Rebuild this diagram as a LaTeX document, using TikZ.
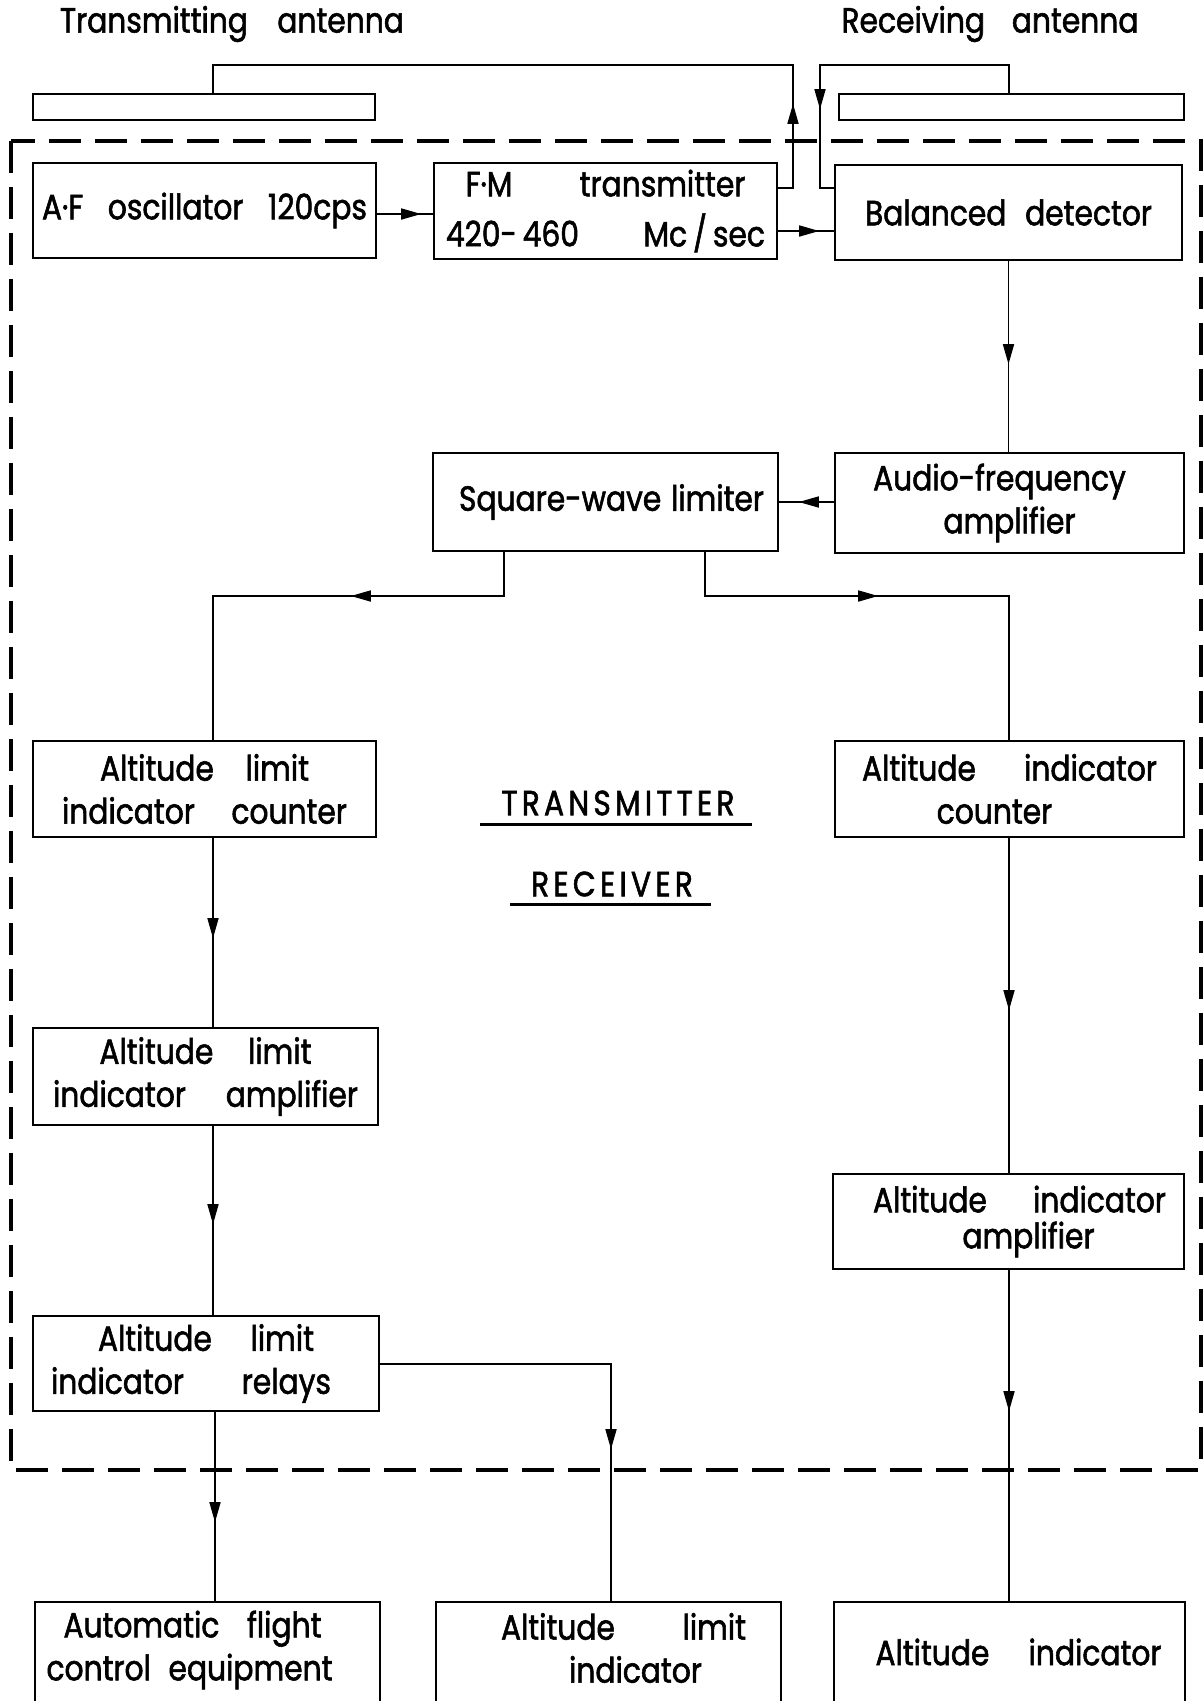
\documentclass[tikz,border=0pt]{standalone}
\usepackage{fontspec}
\setmainfont{Poppins}[FakeStretch=0.85,FakeBold=1.6]
\usetikzlibrary{arrows.meta,decorations.markings,calc}
\newcommand{\spr}[3]{\makebox[#1pt]{#2\hfill #3}}
\newcommand{\sprr}[4]{\makebox[#1pt]{#2\hfill #3\hfill #4}}
\newcommand{\sh}[2]{\hspace*{#1pt}#2}
\begin{document}
\begin{tikzpicture}[x=1pt,y=-1pt,
  box/.style={draw, line width=2.4pt, inner sep=0pt, align=center,
    font=\fontsize{35}{43}\selectfont},
  openbox/.style={box, draw=none},
  side/.style={line width=2.4pt},
  lbl/.style={inner sep=0pt, font=\fontsize{35}{43}\selectfont},
  spaced/.style={inner sep=0pt, font=\fontsize{35}{43}\selectfont\addfontfeature{LetterSpace=12}},
  conn/.style={line width=1.6pt},
  arr/.style={postaction={decorate}, decoration={markings,
    mark=at position #1 with {\arrow{Triangle[length=20pt,width=11pt]}}}},
  frame/.style={line width=3.4pt, dash pattern=on 32pt off 14pt},
  uline/.style={line width=3pt}]
\useasboundingbox (0,0) rectangle (1203,1701);
\clip (0,0) rectangle (1203,1701);

% titles
\node[lbl] (txtitle) at (232,24) {\spr{344}{Transmitting}{antenna}};
\node[lbl] (rxtitle) at (990,24) {\spr{297}{Receiving}{antenna}};

% antennas
\node[box, minimum width=342, minimum height=26] (txant) at (204,107) {};
\node[box, minimum width=345, minimum height=26] (rxant) at (1011.5,107) {};

% dashed enclosure
\draw[frame] (11,141) rectangle (1201,1470);

% boxes
\node[box, minimum width=343, minimum height=95] (afosc) at (204.5,210.5) {\sprr{325}{A·F}{oscillator}{120cps}};
\node[box, minimum width=343, minimum height=96] (fm) at (605.5,211)
  {\spr{280}{F·M}{transmitter}\\[7pt]\spr{319}{420-\,460}{Mc\,/\,sec}};
\node[box, minimum width=347, minimum height=95] (bd) at (1008.5,212.5) {\spr{287}{Balanced}{detector}};
\node[box, minimum width=345, minimum height=98] (sw) at (605.5,502) {\sh{12}{\spr{305}{Square-wave}{limiter}}};
\node[box, minimum width=349, minimum height=100] (afa) at (1009.5,503) {\sh{-20}{Audio-frequency}\\amplifier};
\node[box, minimum width=343, minimum height=96] (alc) at (204.5,789)
  {\spr{209}{Altitude}{limit}\\\spr{285}{indicator}{counter}};
\node[box, minimum width=349, minimum height=96] (aic) at (1009.5,789)
  {\spr{295}{Altitude}{indicator}\\\sh{-30}{counter}};
\node[box, minimum width=345, minimum height=97] (ala) at (205.5,1076.5)
  {\spr{212}{Altitude}{limit}\\\spr{305}{indicator}{amplifier}};
\node[box, minimum width=351, minimum height=95] (aia) at (1008.5,1221.5)
  {\sh{22}{\spr{293}{Altitude}{indicator}}\\[-7pt]\sh{40}{amplifier}};
\node[box, minimum width=346, minimum height=95] (alr) at (206,1363.5)
  {\spr{216}{Altitude}{limit}\\\sh{-30}{\spr{280}{indicator}{relays}}};

% bottom (cut-off) boxes
\node[openbox, minimum width=343, minimum height=94] (afc) at (207.5,1650)
  {\sh{-30}{\spr{258}{Automatic}{flight}}\\\sh{-36}{\spr{286}{control}{equipment}}};
\node[openbox, minimum width=343, minimum height=90] (ali) at (608.5,1648)
  {\sh{30}{\spr{245}{Altitude}{limit}}\\\sh{54}{indicator}};
\node[openbox, minimum width=349, minimum height=98] (ai) at (1009.5,1652)
  {\sh{18}{\spr{286}{Altitude}{indicator}}};
\foreach \b in {afc,ali,ai}{
  \draw[side] ($(\b.south west)+(0,40)$) -- (\b.north west) -- (\b.north east) -- ($(\b.south east)+(0,40)$);
}

% centre labels
\node[spaced] (trm) at (618,803) {TRANSMITTER};
\node[spaced] (rcv) at (612,884) {RECEIVER};
\draw[uline] (480,824) -- (752,824);
\draw[uline] (510,904) -- (711,904);

% connectors
\draw[conn,arr=44pt] (afosc.east |- 0,214) -- (fm.west |- 0,214);
\draw[conn,arr=41pt] (fm.east |- 0,231) -- (bd.west |- 0,231);
\draw[conn,arr=99pt] (fm.east |- 0,188) -- (793,188) -- (793,65) -- (213,65) -- (txant.north -| 213,0);
\draw[conn,arr=261pt] (rxant.north -| 1009,0) -- (1009,65) -- (820,65) -- (820,188) -- (bd.west |- 0,188);
\draw[conn,arr=103pt] (bd.south) -- (bd.south |- afa.north);
\draw[conn,arr=35pt] (afa.west |- 0,502) -- (sw.east |- 0,502);
\draw[conn,arr=197pt] (sw.south -| 504,0) -- (504,596) -- (213,596) -- (alc.north -| 213,0);
\draw[conn,arr=217pt] (sw.south -| 705,0) -- (705,596) -- (1009,596) -- (aic.north -| 1009,0);
\draw[conn,arr=100pt] (alc.south -| 213,0) -- (ala.north -| 213,0);
\draw[conn,arr=98pt] (ala.south -| 213,0) -- (alr.north -| 213,0);
\draw[conn,arr=110pt] (alr.south -| 215,0) -- (afc.north -| 215,0);
\draw[conn,arr=316pt] (alr.east |- 0,1364) -- (611,1364) -- (ali.north -| 611,0);
\draw[conn,arr=172pt] (aic.south -| 1009,0) -- (aia.north -| 1009,0);
\draw[conn,arr=141pt] (aia.south -| 1009,0) -- (ai.north -| 1009,0);
\end{tikzpicture}
\end{document}
